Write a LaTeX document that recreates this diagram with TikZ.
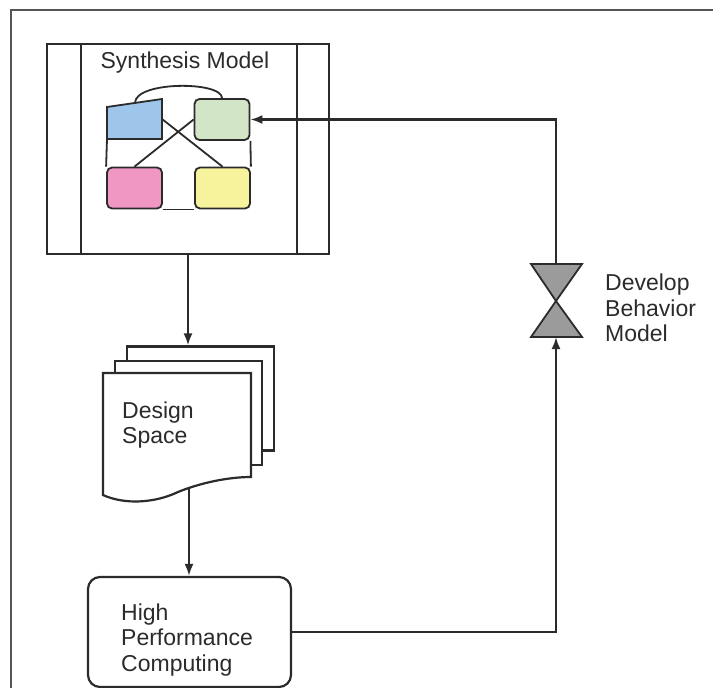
\documentclass[tikz,border=0pt]{standalone}
\usepackage{fontspec}
\setmainfont{Liberation Sans}
\usepackage{tikz}
\usetikzlibrary{arrows.meta}
\definecolor{ink}{HTML}{2B2B2B}
\definecolor{rim}{HTML}{555555}
\definecolor{cblue}{HTML}{9DC6EA}
\definecolor{cgreen}{HTML}{D2E5C6}
\definecolor{cpink}{HTML}{F097C3}
\definecolor{cyellow}{HTML}{F7F29C}
\definecolor{valvegray}{HTML}{9B9B9B}
\tikzset{
  line/.style={draw=ink, line width=2.2pt},
  wire/.style={draw=ink, line width=1.8pt},
  flow/.style={draw=ink, line width=2.2pt, -{Latex[length=12pt,width=9pt]}},
  cell/.style={draw=ink, line width=1.8pt, rounded corners=5pt, minimum width=55pt, minimum height=41pt, inner sep=0pt},
  page/.style={draw=ink, fill=white, line width=2.2pt, minimum width=147pt, minimum height=104pt, inner sep=0pt},
  lab/.style={text=ink, font=\fontsize{23}{25.5}\selectfont, align=left, inner sep=0pt},
}

\begin{document}
\begin{tikzpicture}[x=1pt,y=-1pt]
  \useasboundingbox (0,0) rectangle (713,688);
  \draw[draw=rim, line width=1.6pt] (713,10) -- (11,10) -- (11,688);

  % synthesis model
  \node[line, minimum width=282pt, minimum height=210pt, inner sep=0pt] (synth) at (188,149) {};
  \draw[line] ([xshift=35pt]synth.north west) -- ([xshift=35pt]synth.south west);
  \draw[line] ([xshift=-33pt]synth.north east) -- ([xshift=-33pt]synth.south east);
  \node[lab] (synthTitle) at (185,63) {Synthesis Model};

  \draw[wire, fill=cblue] (107,107) -- (162,99) -- (162,139) -- (107,139) -- cycle;
  \coordinate (blueTop) at (135,103);
  \coordinate (blueEast) at (162,119);
  \coordinate (blueSW) at (107,139);
  \node[cell, fill=cgreen] (green) at (222,119.5) {};
  \node[cell, fill=cpink] (pink) at (134.5,188) {};
  \node[cell, fill=cyellow] (yellow) at (222.5,188) {};
  \draw[wire] (blueTop) .. controls (135,81) and (222,81) .. (green.north);
  \draw[wire] (blueEast) -- (yellow.north);
  \draw[wire] (green.west) -- (pink.north);
  \draw[wire] (blueSW) -- (pink.north west);
  \draw[wire] (green.south east) -- (yellow.north east);
  \draw[wire] (pink.south east) -- (yellow.south west);

  % design space
  \node[page] (back) at (200.5,398.5) {};
  \node[page] (middle) at (188.5,413) {};
  \draw[line, fill=white] (103,495) -- (103,373) -- (251,373) -- (251,477)
    .. controls (228,477) and (200,483) .. (178,492)
    .. controls (155,503) and (125,505) .. (103,495) -- cycle;
  \coordinate (frontB) at (189,489);
  \node[lab, anchor=west] (design) at (122,425) {Design\\Space};
  \draw[flow] (synth.south) -- (synth.south |- back.north);

  % high performance computing
  \node[line, rounded corners=12pt, minimum width=203pt, minimum height=110pt, inner sep=0pt] (hpc) at (189.5,632) {};
  \node[lab, anchor=west] (hpcText) at (121,640) {High\\Performance\\Computing};
  \draw[flow] (frontB) -- (frontB |- hpc.north);

  % develop behavior model
  \coordinate (valve) at (556,301);
  \coordinate (valveT) at (556,264);
  \coordinate (valveB) at (556,337);
  \draw[wire, fill=valvegray] (531,264) -- (582,264) -- (valve) -- cycle;
  \draw[wire, fill=valvegray] (531,337) -- (582,337) -- (valve) -- cycle;
  \node[lab, anchor=west] (valveText) at (605,308) {Develop\\Behavior\\Model};

  \draw[flow] (hpc.east) -| (valveB);
  \draw[flow] (valveT) |- (green.east);
\end{tikzpicture}
\end{document}
